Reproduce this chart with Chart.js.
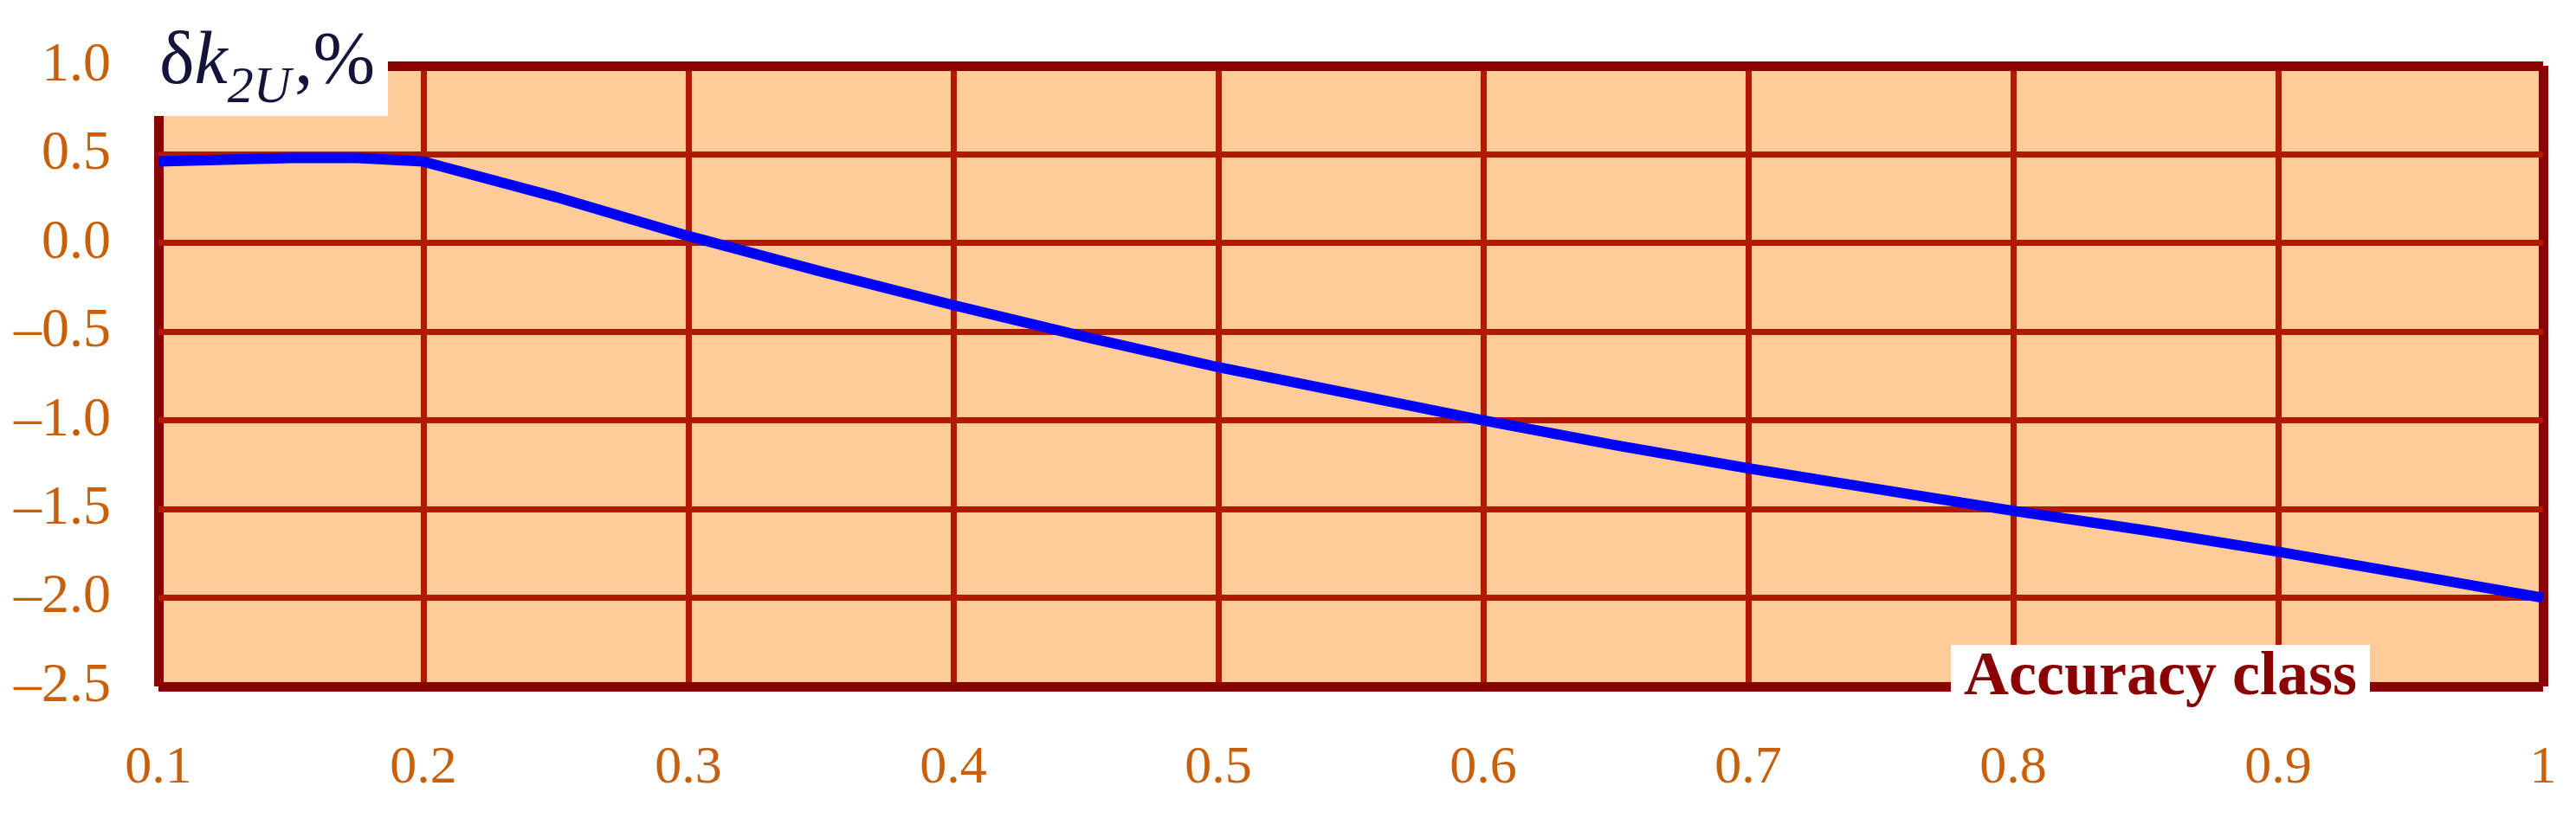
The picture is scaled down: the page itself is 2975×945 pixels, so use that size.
<!DOCTYPE html>
<html>
<head>
<meta charset="utf-8">
<script src="https://cdn.jsdelivr.net/npm/chart.js@4"></script>
<style>
  body { margin: 0; background: #fff; }
  canvas { display: block; }
</style>
</head>
<body>
<canvas id="myChart" width="2975" height="945"></canvas>
<script>
// accuracy class vs relative error dk2U, %
const accClass = [0.1, 0.125, 0.15, 0.175, 0.2, 0.25, 0.3, 0.35, 0.4, 0.45, 0.5, 0.55, 0.6, 0.65, 0.7, 0.75, 0.8, 0.85, 0.9, 0.95, 1.0];
const dk2U = [0.46, 0.47, 0.48, 0.48, 0.46, 0.26, 0.04, -0.16, -0.35, -0.53, -0.70, -0.85, -1.00, -1.14, -1.27, -1.39, -1.51, -1.62, -1.74, -1.87, -2.00];
const xTicks = [0.1, 0.2, 0.3, 0.4, 0.5, 0.6, 0.7, 0.8, 0.9, 1];
const yTicks = [-2.5, -2.0, -1.5, -1.0, -0.5, 0.0, 0.5, 1.0];

const serif = "'Liberation Serif', 'DejaVu Serif', serif";
const tickColor = '#c8600a';
const frameColor = '#8b0000';
const gridColor = '#b01a00';

const bgPlugin = {
  id: 'bg',
  beforeDraw(chart) {
    const a = chart.chartArea;
    const c = chart.ctx;
    c.save();
    c.fillStyle = '#ffcc99';
    c.fillRect(a.left, a.top, a.right - a.left, a.bottom - a.top);
    c.restore();
  },
  afterDraw(chart) {
    const c = chart.ctx;
    c.save();
    // white boxes behind the labels
    c.fillStyle = '#ffffff';
    c.fillRect(176, 0, 272, 134);
    c.fillRect(2253, 745, 484, 75);

    // y title: dk2U,%
    c.fillStyle = '#14143a';
    c.textBaseline = 'alphabetic';
    let x = 184;
    c.font = '86px ' + serif;
    c.fillText('\u03B4', x, 96);
    x += c.measureText('\u03B4').width;
    c.font = 'italic 86px ' + serif;
    c.fillText('k', x, 96);
    x += c.measureText('k').width;
    c.font = 'italic 60px ' + serif;
    c.fillText('2U', x, 118);
    x += c.measureText('2U').width + 4;
    c.font = '86px ' + serif;
    c.fillText(',%', x, 96);

    // x title
    c.fillStyle = '#8b0000';
    c.font = 'bold 72px ' + serif;
    c.textAlign = 'center';
    c.fillText('Accuracy class', 2495, 802);
    c.restore();
  }
};

const ctx = document.getElementById('myChart');

new Chart(ctx, {
  type: 'line',
  data: {
    labels: accClass,
    datasets: [{
      label: 'dk2U',
      data: accClass.map((v, i) => ({ x: v, y: dk2U[i] })),
      borderColor: '#0000ff',
      borderWidth: 12,
      pointRadius: 0,
      tension: 0
    }]
  },
  options: {
    responsive: false,
    animation: false,
    devicePixelRatio: 1,
    layout: {
      padding: { left: 0, right: 38, top: 76, bottom: 0 }
    },
    scales: {
      x: {
        type: 'linear',
        min: 0.1,
        max: 1,
        afterBuildTicks: scale => { scale.ticks = xTicks.map(v => ({ value: v })); },
        afterFit: scale => {
          scale.height = 945 - 793;
          scale.paddingLeft = 0;
          scale.paddingRight = 0;
        },
        grid: {
          drawTicks: false,
          color: ctx => (ctx.index === 0 || ctx.index === xTicks.length - 1) ? frameColor : gridColor,
          lineWidth: ctx => (ctx.index === 0 || ctx.index === xTicks.length - 1) ? 11 : 7
        },
        border: { display: false },
        ticks: {
          color: tickColor,
          padding: 58,
          maxRotation: 0,
          autoSkip: false,
          font: { family: serif, size: 62 },
          callback: v => v === 1 ? '1' : v.toFixed(1)
        }
      },
      y: {
        min: -2.5,
        max: 1.0,
        afterBuildTicks: scale => { scale.ticks = yTicks.map(v => ({ value: v })); },
        afterFit: scale => {
          scale.width = 183;
          scale.paddingTop = 0;
          scale.paddingBottom = 0;
        },
        grid: {
          drawTicks: false,
          color: ctx => (ctx.index === 0 || ctx.index === yTicks.length - 1) ? frameColor : gridColor,
          lineWidth: ctx => (ctx.index === 0 || ctx.index === yTicks.length - 1) ? 11 : 7
        },
        border: { display: false },
        ticks: {
          color: tickColor,
          padding: 55,
          font: { family: serif, size: 64 },
          callback: v => v.toFixed(1).replace('-', '\u2013')
        }
      }
    },
    plugins: {
      legend: { display: false },
      tooltip: { enabled: false }
    }
  },
  plugins: [bgPlugin]
});
</script>
</body>
</html>
